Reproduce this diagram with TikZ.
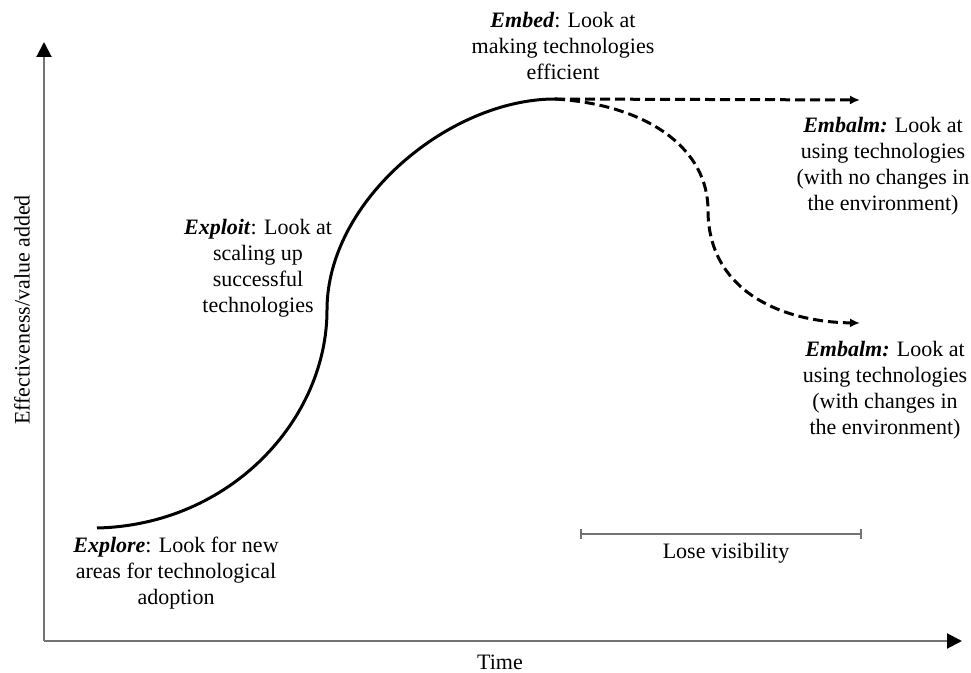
\documentclass[tikz,border=0pt]{standalone}
\usepackage{fontspec}
\setmainfont{Liberation Serif}
\usetikzlibrary{arrows.meta}
\begin{document}
\begin{tikzpicture}[x=0.5pt,y=-0.5pt]
    \tikzstyle{axis}=[draw=black!55,line width=1pt,-{Triangle[length=7.5pt,width=7.5pt,color=black]}]
    \tikzstyle{phase}=[align=center,font=\fontsize{11}{13}\selectfont,inner sep=0pt]
    \tikzstyle{growth}=[line width=1.5pt]
    \tikzstyle{decline}=[line width=1.5pt,dash pattern=on 5pt off 2.5pt,-{Latex[length=5pt,width=4.5pt]}]
    \useasboundingbox (0,0) rectangle (971,673);
    \coordinate (O) at (44,641);
    \coordinate (Y_top) at (44,42);
    \coordinate (X_end) at (962,641);
    \draw[axis] (O) -- (Y_top);
    \draw[axis] (O) -- (X_end);
    \node[phase,rotate=90] (L_y) at (22,310) {Effectiveness/value added};
    \node[phase] (L_x) at (500,662) {Time};
    \coordinate (C_start) at (97,528);
    \coordinate (C_mid) at (327,310);
    \coordinate (C_top) at (555,99);
    \coordinate (C_flat) at (860,100);
    \coordinate (C_turn) at (708,210);
    \coordinate (C_low) at (860,323);
    \draw[growth] (C_start) .. controls (230,525) and (327,420) .. (C_mid)
        .. controls (327,200) and (450,99) .. (C_top);
    \draw[decline] (C_top) -- (C_flat);
    \draw[decline] (C_top) .. controls (650,105) and (708,150) .. (C_turn)
        .. controls (708,290) and (780,322) .. (C_low);
    \node[phase] (P_explore) at (176,573) {\textbf{\textit{Explore}}: Look for new\\areas for technological\\adoption};
    \node[phase] (P_exploit) at (258,268) {\textbf{\textit{Exploit}}: Look at\\scaling up\\successful\\technologies};
    \node[phase] (P_embed) at (563,46) {\textbf{\textit{Embed}}: Look at\\making technologies\\efficient};
    \node[phase] (P_embalm_a) at (883,166) {\textbf{\textit{Embalm:}} Look at\\using technologies\\(with no changes in\\the environment)};
    \node[phase] (P_embalm_b) at (885,390) {\textbf{\textit{Embalm:}} Look at\\using technologies\\(with changes in\\the environment)};
    \coordinate (V_left) at (580,534);
    \coordinate (V_right) at (862,534);
    \draw[draw=black!55,line width=0.8pt,{Bar[width=5pt]}-{Bar[width=5pt]}] (V_left) -- (V_right);
    \node[phase] (L_vis) at (726,553) {Lose visibility};
\end{tikzpicture}
\end{document}
